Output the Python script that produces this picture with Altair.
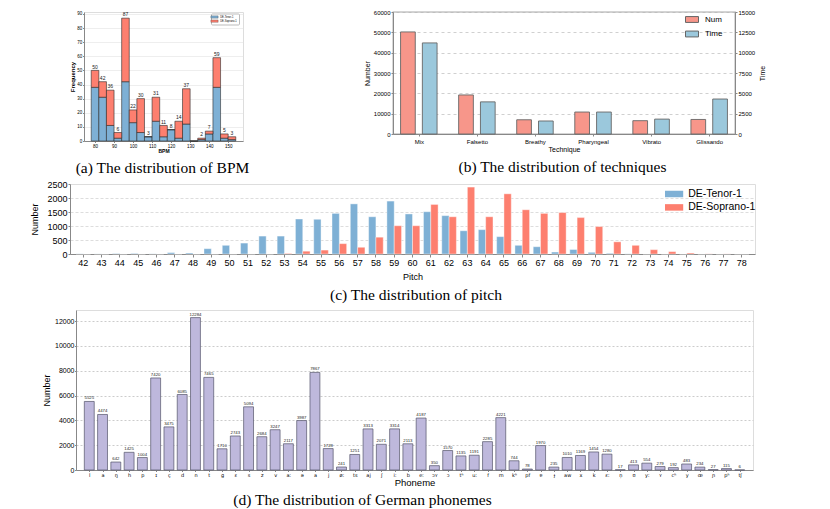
import json
import altair as alt
import pandas as pd

SANS = "Liberation Sans"
SERIF = "Liberation Serif"

# ---------------- (a) BPM distribution ----------------
series_names = ["DE-Tenor-1", "DE-Soprano-1"]
bpm_bins = [80, 84, 88, 92, 96, 100, 104, 108, 112, 116, 120, 124, 128, 132, 136, 140, 144, 148, 152]
bpm_tenor = [38, 31, 11, 2, 42, 13, 6, 3, 14, 3, 8, 2, 12, 0, 1, 5, 38, 2, 1]
bpm_soprano = [12, 11, 25, 4, 45, 9, 24, 0, 17, 8, 0, 12, 25, 0, 1, 2, 21, 3, 2]
bpm_ticks = [80, 90, 100, 110, 120, 130, 140, 150]
freq_ticks = [0, 10, 20, 30, 40, 50, 60, 70, 80, 90]

# ---------------- (b) techniques ----------------
techniques = ["Mix", "Falsetto", "Breathy", "Pharyngeal", "Vibrato", "Glissando"]
tech_num = [50200, 19200, 7000, 10800, 6550, 7150]
tech_time = [11200, 3950, 1600, 2700, 1830, 4300]
num_ticks = [0, 10000, 20000, 30000, 40000, 50000, 60000]
time_ticks = [0, 2500, 5000, 7500, 10000, 12500, 15000]
tech_series = ["Num", "Time"]

# ---------------- (c) pitch ----------------
pitches = [42, 43, 44, 45, 46, 47, 48, 49, 50, 51, 52, 53, 54, 55, 56, 57, 58, 59, 60,
           61, 62, 63, 64, 65, 66, 67, 68, 69, 70, 71, 72, 73, 74, 75, 76, 77, 78]
pitch_tenor = [5, 3, 15, 20, 5, 50, 35, 190, 310, 390, 640, 640, 1250, 1240, 1450, 1790, 1330, 1890, 1430,
               1510, 1370, 830, 870, 620, 310, 260, 70, 160, 60, 25, 5, 0, 0, 0, 0, 0, 0]
pitch_soprano = [0, 0, 0, 0, 0, 0, 0, 0, 0, 0, 0, 20, 100, 140, 370, 240, 600, 1010, 1010,
                 1770, 1330, 2390, 1330, 2150, 1580, 1450, 1480, 1300, 980, 435, 310, 155, 85, 35, 5, 3, 0]
pitch_num_ticks = [0, 500, 1000, 1500, 2000, 2500]

# ---------------- (d) German phonemes ----------------
phonemes = ["l", "a", "ŋ", "h", "p", "ɪ", "ç", "d", "n", "t",
            "ɡ", "ɛ", "s", "z", "v", "aː", "ə", "a", "j", "øː",
            "ts", "aj", "ʃ", "iː", "b", "eː", "ɔʏ", "ɔ", "tʰ", "uː",
            "f", "m", "kʰ", "pf", "ɐ", "ɟ", "aw", "x", "k", "ɛː",
            "n̩", "ʊ", "yː", "ʏ", "cʰ", "y", "œ", "ɲ", "pʰ", "tʃ"]
phoneme_counts = [5525, 4474, 642, 1425, 1004, 7420, 3475, 6085, 12284, 7465,
                  1710, 2743, 5094, 2684, 3247, 2117, 3987, 7867, 1728, 241,
                  1251, 3313, 2071, 3314, 2113, 4187, 350, 1570, 1135, 1191,
                  2285, 4221, 744, 78, 1970, 235, 1010, 1169, 1454, 1280,
                  17, 413, 554, 279, 192, 483, 234, 27, 115, 6]
phon_ticks = [0, 2000, 4000, 6000, 8000, 10000, 12000]

TENOR = "#7EB0D5"
SOPRANO = "#FD7F6F"
B_NUM = "#F7968A"
B_TIME = "#9BC8DC"
D_FILL = "#BEB8DC"


def caption(text, offset, dx=0.0):
    return alt.TitleParams(text=text, orient="bottom", anchor="middle", frame="group",
                           font=SERIF, fontSize=15.5, fontWeight="normal", color="#000",
                           offset=offset, dx=dx)


def spacer(w, h):
    return alt.Chart(pd.DataFrame({"v": [0]})).mark_point(size=0, opacity=0).encode(
        x=alt.X("v:Q", axis=None), y=alt.Y("v:Q", axis=None)
    ).properties(width=w, height=h, view=alt.ViewBackground(stroke=None))


def row(*charts):
    return alt.hconcat(*charts, spacing=0, bounds="flush").resolve_scale(
        color="independent").resolve_legend(color="independent")


# ---------- panel (a)
dfa = pd.DataFrame({"bpm": bpm_bins, "tenor": bpm_tenor, "soprano": bpm_soprano})

axis_xa = alt.Axis(values=bpm_ticks, format="d", title="BPM", labelFontSize=4.5, titleFontSize=5,
                   tickSize=1.5, labelPadding=0.5, titlePadding=0.5, grid=False,
                   titleFontWeight="bold")
axis_ya = alt.Axis(values=freq_ticks, format="d", title="Frequency", labelFontSize=4.5, titleFontSize=6,
                   tickSize=1.5, labelPadding=0.8, titlePadding=1.5, grid=True,
                   gridColor="#e2e2e2", gridWidth=0.6, titleFontWeight="bold")
scale_xa = alt.Scale(domain=[74.2, 157.8], nice=False, zero=False)
scale_ya = alt.Scale(domain=[0, 91.35], nice=False)
color_a = alt.Color("series:N", scale=alt.Scale(domain=series_names, range=[TENOR, SOPRANO]),
                    legend=alt.Legend(title=None, orient="none", legendX=127, legendY=1.5,
                                      symbolType="M-2.2,-0.7L2.2,-0.7L2.2,0.7L-2.2,0.7Z",
                                      symbolSize=10.9, symbolStrokeColor="#2b2b2b",
                                      symbolStrokeWidth=0.3, symbolOpacity=1,
                                      labelFontSize=2.6, labelOffset=3.7, rowPadding=0.1,
                                      padding=1.5, fillColor="white", strokeColor="#bbbbbb",
                                      cornerRadius=1))

base_a = alt.Chart(dfa).transform_calculate(
    lo="datum.bpm - 2", hi="datum.bpm + 2", total="datum.tenor + datum.soprano", zero="0"
)
tenor_a = base_a.transform_calculate(series="'DE-Tenor-1'").mark_bar(
    stroke="#2b2b2b", strokeWidth=0.6
).encode(
    x=alt.X("lo:Q", scale=scale_xa, axis=axis_xa),
    x2="hi:Q",
    y=alt.Y("tenor:Q", scale=scale_ya, axis=axis_ya),
    y2="zero:Q",
    color=color_a,
)
sop_a = base_a.transform_calculate(series="'DE-Soprano-1'").mark_bar(
    stroke="#2b2b2b", strokeWidth=0.6
).encode(
    x=alt.X("lo:Q", scale=scale_xa, axis=axis_xa),
    x2="hi:Q",
    y=alt.Y("total:Q", scale=scale_ya, axis=axis_ya),
    y2="tenor:Q",
    color=color_a,
)
text_a = base_a.transform_filter("datum.total > 0").mark_text(
    fontSize=5, font=SANS, baseline="bottom", dy=-0.8, color="#222"
).encode(
    x=alt.X("bpm:Q", scale=scale_xa, axis=axis_xa),
    y=alt.Y("total:Q", scale=scale_ya, axis=axis_ya),
    text=alt.Text("total:Q", format="d"),
)
panel_a = alt.layer(tenor_a, sop_a, text_a).properties(
    width=159, height=129, title=caption("(a) The distribution of BPM", 8, -1)
)

# ---------- panel (b)
dfb = pd.DataFrame({"tech": techniques, "num": tech_num, "time": tech_time})
x_b = alt.X("tech:N", sort=techniques, scale=alt.Scale(type="point", padding=0.4447),
            axis=alt.Axis(labelAngle=0, title="Technique", labelFontSize=6, titleFontSize=7,
                          tickSize=2, labelPadding=2.5, titlePadding=0.5, titleFontWeight="normal"))
color_b = alt.Color("s:N", scale=alt.Scale(domain=tech_series, range=[B_NUM, B_TIME]),
                    legend=alt.Legend(title=None, orient="none", legendX=292, legendY=0.5,
                                      symbolType="M-1,-0.45L1,-0.45L1,0.45L-1,0.45Z",
                                      symbolSize=169, symbolStrokeColor="#666",
                                      symbolStrokeWidth=1, symbolOpacity=1,
                                      labelFontSize=8, labelOffset=6, rowPadding=2.5, padding=0))
num_b = alt.Chart(dfb).transform_calculate(s="'Num'").mark_bar(
    width=14.7, xOffset=-10.9, stroke="#666", strokeWidth=0.9
).encode(
    x=x_b,
    y=alt.Y("num:Q", scale=alt.Scale(domain=[0, 60000], nice=False),
            axis=alt.Axis(values=num_ticks, format="d", title="Number", orient="left", grid=True,
                          gridDash=[3, 3], gridColor="#d0d0d0", labelFontSize=6, titleFontSize=7,
                          tickSize=2, labelPadding=1, titlePadding=3, titleFontWeight="normal")),
    color=color_b,
)
time_b = alt.Chart(dfb).transform_calculate(s="'Time'").mark_bar(
    width=14.7, xOffset=10.9, stroke="#666", strokeWidth=0.9
).encode(
    x=x_b,
    y=alt.Y("time:Q", scale=alt.Scale(domain=[0, 15000], nice=False),
            axis=alt.Axis(values=time_ticks, format="d", title="Time", orient="right", grid=False,
                          labelFontSize=6, titleFontSize=7, tickSize=2, labelPadding=1,
                          titlePadding=4, titleAngle=270, titleBaseline="top",
                          titleFontWeight="normal")),
    color=color_b,
)
panel_b = alt.layer(num_b, time_b).resolve_scale(y="independent").properties(
    width=342, height=122, title=caption("(b) The distribution of techniques", 8, -1.5),
    view=alt.ViewBackground(stroke="#aaaaaa", strokeWidth=1.3),
)

# ---------- panel (c)
n_c = len(pitches)
dfc = pd.DataFrame({
    "pitch": pitches + pitches,
    "series": [series_names[0]] * n_c + [series_names[1]] * n_c,
    "n": pitch_tenor + pitch_soprano,
})
panel_c = alt.Chart(dfc).mark_bar(stroke="white", strokeWidth=0.4).encode(
    x=alt.X("pitch:O", scale=alt.Scale(paddingInner=0.2, paddingOuter=0.325),
            axis=alt.Axis(labelAngle=0, title="Pitch", labelFontSize=9, titleFontSize=9,
                          tickSize=3, labelPadding=1, titlePadding=5, labelOverlap=False,
                          titleFontWeight="normal")),
    xOffset=alt.XOffset("series:N", sort=series_names),
    y=alt.Y("n:Q", scale=alt.Scale(domain=[0, 2500], nice=False),
            axis=alt.Axis(values=pitch_num_ticks, format="d", title="Number", labelFontSize=9,
                          titleFontSize=9, tickSize=2, labelPadding=1, titlePadding=7, grid=True,
                          gridDash=[3, 2], gridColor="#dddddd", titleFontWeight="normal")),
    color=alt.Color("series:N", scale=alt.Scale(domain=series_names, range=[TENOR, SOPRANO]),
                    legend=alt.Legend(title=None, orient="none", legendX=597.6, legendY=3.5,
                                      symbolType="M-1.4,-0.5L1.4,-0.5L1.4,0.5L-1.4,0.5Z",
                                      symbolSize=169, symbolStrokeWidth=0, symbolOpacity=1,
                                      labelFontSize=10.5, labelOffset=7.6, rowPadding=1.4,
                                      padding=0)),
).properties(width=685, height=70, title=caption("(c) The distribution of pitch", 6.5, 3.5))

# ---------- panel (d)
dfd = pd.DataFrame({"idx": list(range(len(phonemes))), "ph": phonemes, "cnt": phoneme_counts})
label_expr = json.dumps(phonemes, ensure_ascii=False) + "[datum.value]"
x_d = alt.X("idx:O", scale=alt.Scale(type="point", padding=2.9),
            axis=alt.Axis(labelExpr=label_expr, labelAngle=0, title="Phoneme", labelFontSize=5,
                          labelFont="DejaVu Sans", titleFontSize=9.5, tickSize=1.5, labelPadding=0.7,
                          titlePadding=0, labelOverlap=False, titleFontWeight="normal"))
y_d = alt.Y("cnt:Q", scale=alt.Scale(domain=[0, 12898], nice=False),
            axis=alt.Axis(values=phon_ticks, format="d", title="Number", labelFontSize=7,
                          titleFontSize=9, tickSize=1.5, labelPadding=0.5, titlePadding=3.3,
                          grid=True, gridDash=[2, 2], gridColor="#cccccc", titleFontWeight="normal"))
bars_d = alt.Chart(dfd).mark_bar(width=9.9, fill=D_FILL, stroke="#55556a", strokeWidth=0.7).encode(
    x=x_d, y=y_d)
text_d = alt.Chart(dfd).mark_text(fontSize=4.3, baseline="bottom", dy=-1, font=SANS, color="#222").encode(
    x=x_d, y=y_d, text=alt.Text("cnt:Q", format="d"))
panel_d = alt.layer(bars_d, text_d).properties(
    width=677, height=160, title=caption("(d) The distribution of German phonemes", 6.5, -52)
)

row1 = row(spacer(54, 167), panel_a, spacer(150, 1), panel_b)
row2 = row(spacer(40, 125), panel_c)
row3 = row(spacer(46, 195), panel_d)

chart = alt.vconcat(row1, row2, row3, spacing=0).resolve_scale(
    color="independent"
).resolve_legend(color="independent").properties(
    padding={"left": 22, "top": 0, "right": 5, "bottom": 0}
).configure_view(
    stroke="#a0a0a0", strokeWidth=0.8
).configure_axis(
    labelFont=SANS, titleFont=SANS, labelColor="#222",
    titleColor="#222", domainColor="#777", tickColor="#555"
).configure_legend(
    labelFont=SANS, labelColor="#222"
).configure(background="white")

chart.save("out.html", embed_options={"renderer": "svg", "actions": False})
